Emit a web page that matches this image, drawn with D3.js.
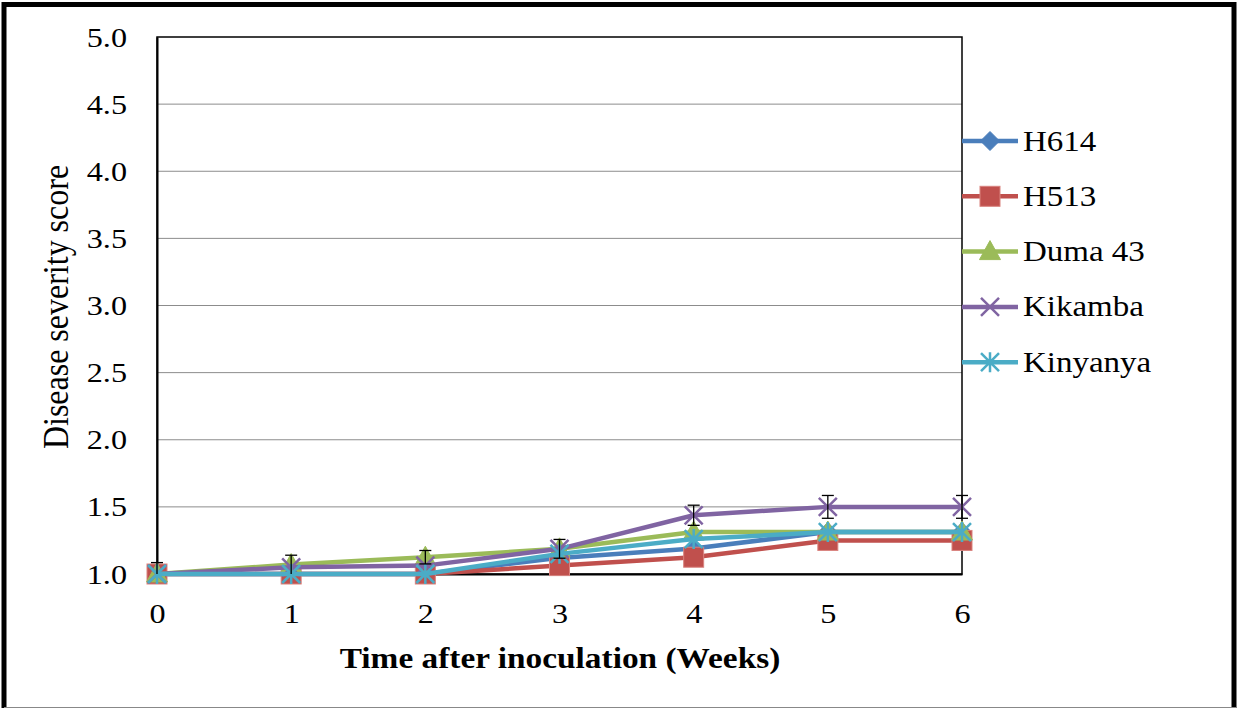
<!DOCTYPE html>
<html>
<head>
<meta charset="utf-8">
<script src="https://cdn.jsdelivr.net/npm/d3@7"></script>
<style>
  body { margin: 0; background: #fff; }
  text { font-family: "Liberation Serif", "Times New Roman", serif; fill: #000; }
</style>
</head>
<body>
<svg id="drawing_region"></svg>
<script>
// data
const weeks = [0, 1, 2, 3, 4, 5, 6];
const seriesNames = ["H614", "H513", "Duma 43", "Kikamba", "Kinyanya"];
const h614 = [1.0, 1.0, 1.0, 1.12, 1.19, 1.3125, 1.3125];
const h513 = [1.0, 1.0, 1.0, 1.0625, 1.125, 1.25, 1.25];
const duma43 = [1.0, 1.07, 1.125, 1.1875, 1.3125, 1.3125, 1.3125];
const kikamba = [1.0, 1.05, 1.0625, 1.1875, 1.4375, 1.5, 1.5];
const kinyanya = [1.0, 1.0, 1.0, 1.15, 1.26, 1.3125, 1.3125];
// error bars (only those visible in the picture)
const dumaErr = [0, 0, 0.05, 0, 0, 0, 0];
const kikambaErr = [0.085, 0.09, 0, 0.07, 0.075, 0.085, 0.085];
const yTicks = [1.0, 1.5, 2.0, 2.5, 3.0, 3.5, 4.0, 4.5, 5.0];

const colors = ["#4a7ebb", "#c0504d", "#9bbb59", "#8064a2", "#4bacc6"];
const shapes = ["diamond", "square", "triangle", "cross", "asterisk"];
const allValues = [h614, h513, duma43, kikamba, kinyanya];
const allErrors = [null, null, dumaErr, kikambaErr, null];

const W = 1242, H = 709;
const margin = {top: 37, right: 280, bottom: 135, left: 157};
const innerW = W - margin.left - margin.right;
const innerH = H - margin.top - margin.bottom;
const sx = 1.15; // text in the picture is a bit wide

const svg = d3.select("#drawing_region").attr("width", W).attr("height", H);

// outer frame
svg.append("path")
    .attr("d", `M4,708 L4,4.5 L1234,4.5 L1234,708`)
    .attr("fill", "none").attr("stroke", "#000").attr("stroke-width", 5);
svg.append("line").attr("x1", 4).attr("x2", 1236).attr("y1", 707.5).attr("y2", 707.5)
    .attr("stroke", "#888").attr("stroke-width", 1);

const chart = svg.append("g").attr("transform", `translate(${margin.left},${margin.top})`);

const xscale = d3.scaleLinear().domain([0, 6]).range([0, innerW]);
const yscale = d3.scaleLinear().domain([1, 5]).range([innerH, 0]);

// gridlines
chart.selectAll(".grid").data(yTicks.slice(1, -1)).enter()
    .append("line")
    .attr("x1", 0).attr("x2", innerW)
    .attr("y1", d => yscale(d)).attr("y2", d => yscale(d))
    .attr("stroke", "#8c8c8c").attr("stroke-width", 1);

// frame of plot area
chart.append("rect").attr("x", 0).attr("y", 0).attr("width", innerW).attr("height", innerH)
    .attr("fill", "none").attr("stroke", "#000").attr("stroke-width", 1.5);

// axes (labels only, no tick marks)
const yaxis = d3.axisLeft(yscale).tickValues(yTicks).tickSize(0).tickPadding(30)
    .tickFormat(d3.format(".1f"));
const xaxis = d3.axisBottom(xscale).tickValues(weeks).tickSize(0).tickPadding(30)
    .tickFormat(d3.format("d"));

const yg = chart.append("g").call(yaxis);
yg.select(".domain").attr("stroke", "#000").attr("stroke-width", 2);
yg.selectAll("text")
    .attr("x", null).attr("y", null).attr("dy", null)
    .attr("transform", d => `translate(-30,9) scale(${sx},1)`)
    .style("font-size", "28px").style("font-family", "Liberation Serif");

const xg = chart.append("g").attr("transform", `translate(0,${innerH})`).call(xaxis);
xg.select(".domain").attr("stroke", "#000").attr("stroke-width", 2);
xg.selectAll("text")
    .attr("y", null).attr("dy", null)
    .attr("transform", `translate(0,49) scale(${sx},1)`)
    .style("font-size", "28px").style("font-family", "Liberation Serif");

// markers
function drawMarker(g, shape, color, x, y) {
    if (shape === "diamond") {
        g.append("path").attr("d", `M${x},${y - 9.5} L${x + 9.5},${y} L${x},${y + 9.5} L${x - 9.5},${y} Z`)
            .attr("fill", color).attr("stroke", color).attr("stroke-width", 1);
    } else if (shape === "square") {
        g.append("rect").attr("x", x - 10).attr("y", y - 10).attr("width", 20).attr("height", 20)
            .attr("fill", color).attr("stroke", "#d9837f").attr("stroke-width", 1);
    } else if (shape === "triangle") {
        g.append("path").attr("d", `M${x},${y - 11} L${x + 10.5},${y + 8} L${x - 10.5},${y + 8} Z`)
            .attr("fill", color).attr("stroke", color).attr("stroke-width", 1);
    } else if (shape === "cross") {
        g.append("path").attr("d", `M${x - 9},${y - 9} L${x + 9},${y + 9} M${x - 9},${y + 9} L${x + 9},${y - 9}`)
            .attr("stroke", color).attr("stroke-width", 2.5).attr("fill", "none");
    } else if (shape === "asterisk") {
        g.append("path").attr("d", `M${x - 9},${y - 9} L${x + 9},${y + 9} M${x - 9},${y + 9} L${x + 9},${y - 9} M${x},${y - 10} L${x},${y + 10}`)
            .attr("stroke", color).attr("stroke-width", 2.5).attr("fill", "none");
    }
}

const line = d3.line().x((d, i) => xscale(weeks[i])).y(d => yscale(d));

allValues.forEach((vals, s) => {
    const g = chart.append("g");
    g.append("path").datum(vals).attr("d", line)
        .attr("fill", "none").attr("stroke", colors[s]).attr("stroke-width", 4.5)
        .attr("stroke-linejoin", "round");
    vals.forEach((v, i) => drawMarker(g, shapes[s], colors[s], xscale(weeks[i]), yscale(v)));
});

// error bars on top
allValues.forEach((vals, s) => {
    const err = allErrors[s];
    if (!err) return;
    const eg = chart.append("g").attr("stroke", "#000").attr("stroke-width", 1.3);
    vals.forEach((v, i) => {
        if (!err[i]) return;
        const x = xscale(weeks[i]);
        const y1 = yscale(v + err[i]), y2 = yscale(Math.max(1, v - err[i]));
        eg.append("line").attr("x1", x).attr("x2", x).attr("y1", y1).attr("y2", y2);
        eg.append("line").attr("x1", x - 6).attr("x2", x + 6).attr("y1", y1).attr("y2", y1);
        if (v - err[i] > 1) eg.append("line").attr("x1", x - 6).attr("x2", x + 6).attr("y1", y2).attr("y2", y2);
    });
});

// axis titles
svg.append("text")
    .attr("transform", `translate(560,668) scale(${sx},1)`)
    .attr("text-anchor", "middle")
    .style("font-size", "29px").style("font-weight", "bold")
    .text("Time after inoculation (Weeks)");

svg.append("text")
    .attr("transform", `translate(68,307) rotate(-90) scale(1,${sx})`)
    .attr("text-anchor", "middle")
    .style("font-size", "32px")
    .text("Disease severity score");

// legend
const legend = svg.append("g").attr("transform", "translate(962,141)");
seriesNames.forEach((name, s) => {
    const g = legend.append("g").attr("transform", `translate(0,${s * 55.3})`);
    g.append("line").attr("x1", 0).attr("x2", 56).attr("y1", 0).attr("y2", 0)
        .attr("stroke", colors[s]).attr("stroke-width", 4.5);
    drawMarker(g, shapes[s], colors[s], 28, 0);
    g.append("text").attr("transform", `translate(61,9.5) scale(1.1,1)`)
        .style("font-size", "30px").text(name);
});
</script>
</body>
</html>
